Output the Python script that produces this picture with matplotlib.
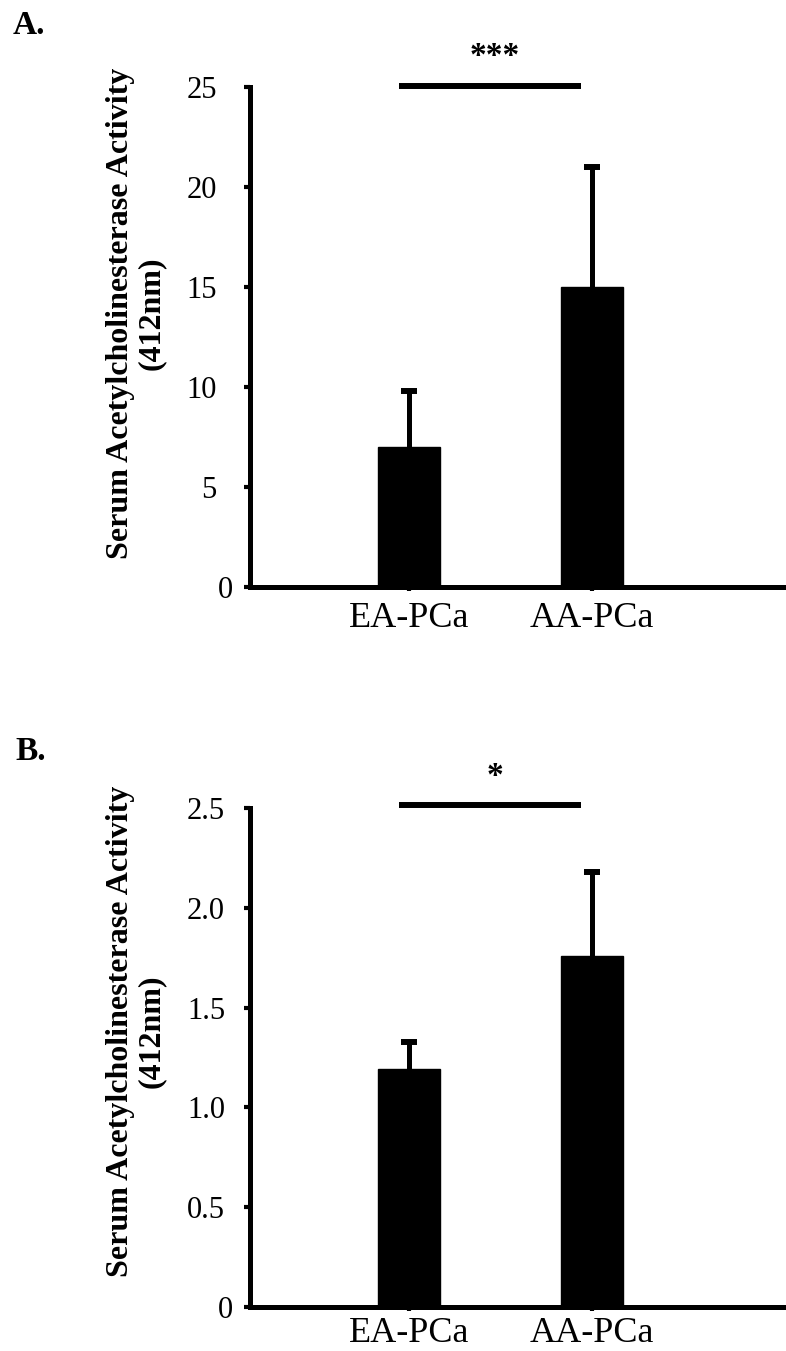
import matplotlib
matplotlib.use("Agg")
import matplotlib.pyplot as plt
import matplotlib.transforms as mtransforms

# ---- data ----
categories = ["EA-PCa", "AA-PCa"]
values_A = [7.0, 15.0]
errors_A = [2.8, 6.0]
values_B = [1.19, 1.76]
errors_B = [0.14, 0.42]
yticks_A = [0, 5, 10, 15, 20, 25]
yticklabels_A = ["0", "5", "10", "15", "20", "25"]
yticks_B = [0, 0.5, 1.0, 1.5, 2.0, 2.5]
yticklabels_B = ["0", "0.5", "1.0", "1.5", "2.0", "2.5"]
sig_A = "***"
sig_B = "*"
ylabel = "Serum Acetylcholinesterase Activity\n(412nm)"

W, H = 786, 1351
DPI = 100
plt.rcParams['font.family'] = ['Liberation Serif', 'DejaVu Serif']

fig = plt.figure(figsize=(W / DPI, H / DPI), dpi=DPI)
fig.patch.set_facecolor("white")

def px_axes(left, top, right, bottom):
    return fig.add_axes([left / W, 1 - bottom / H, (right - left) / W, (bottom - top) / H])

spine_lw = 3.6
x = [0, 1]
bar_w = 0.34

def draw_panel(ax, vals, errs, ymax, yticks, yticklabels, ypad, xpad, zero_shift_px,
               sig, sig_line_y, sig_text_y):
    ax.bar(x, vals, width=bar_w, color="black", edgecolor="black", zorder=2)
    eb = ax.errorbar(x, vals, yerr=[[0, 0], errs], fmt="none", ecolor="black",
                     elinewidth=3.6, capsize=5.5, capthick=4.3, zorder=3)
    for cl in eb[1]:
        yd = list(cl.get_ydata())
        if all(abs(a - b) < 1e-9 for a, b in zip(yd, vals)):
            cl.set_visible(False)
    ax.set_ylim(0, ymax)
    ax.set_xlim(-0.869, 2.06)
    for s in ["top", "right"]:
        ax.spines[s].set_visible(False)
    for s in ["left", "bottom"]:
        ax.spines[s].set_linewidth(spine_lw)
        ax.spines[s].set_capstyle("projecting")
    ax.set_yticks(yticks)
    ax.set_yticklabels(yticklabels, fontsize=22)
    ax.set_xticks(x)
    ax.set_xticklabels(categories, fontsize=26)
    ax.tick_params(axis="y", direction="out", length=4, width=3, pad=ypad)
    ax.tick_params(axis="x", direction="out", length=3, width=3, pad=xpad)
    lab0 = ax.get_yticklabels()[0]
    lab0.set_transform(lab0.get_transform() +
                       mtransforms.ScaledTranslation(zero_shift_px / DPI, 0, fig.dpi_scale_trans))
    ax.plot([x[0] - 0.055, x[1] - 0.06], [sig_line_y, sig_line_y], color="black",
            lw=4.3, solid_capstyle="butt", clip_on=False)
    ax.text((x[0] + x[1]) / 2 - 0.03, sig_text_y, sig, ha="center", va="center",
            fontsize=24, fontweight="bold", clip_on=False)

axA = px_axes(250, 87, 786, 587)
draw_panel(axA, values_A, errors_A, 25, yticks_A, yticklabels_A, 20, 8, 16, sig_A, 25.05, 26.5)

axB = px_axes(250, 808, 786, 1307)
draw_panel(axB, values_B, errors_B, 2.5, yticks_B, yticklabels_B, 14, 4, 8, sig_B, 2.515, 2.66)

for yc in [313, 1031]:
    fig.text(136 / W, 1 - yc / H, ylabel, rotation=90, ha="center", va="center",
             multialignment="center", fontsize=23, fontweight="bold", linespacing=1.1)

fig.text(13 / W, 1 - 25 / H, "A.", fontsize=24, fontweight="bold", ha="left", va="center")
fig.text(15 / W, 1 - 751 / H, "B.", fontsize=24, fontweight="bold", ha="left", va="center")

fig.savefig("out.png", dpi=DPI, facecolor="white")
